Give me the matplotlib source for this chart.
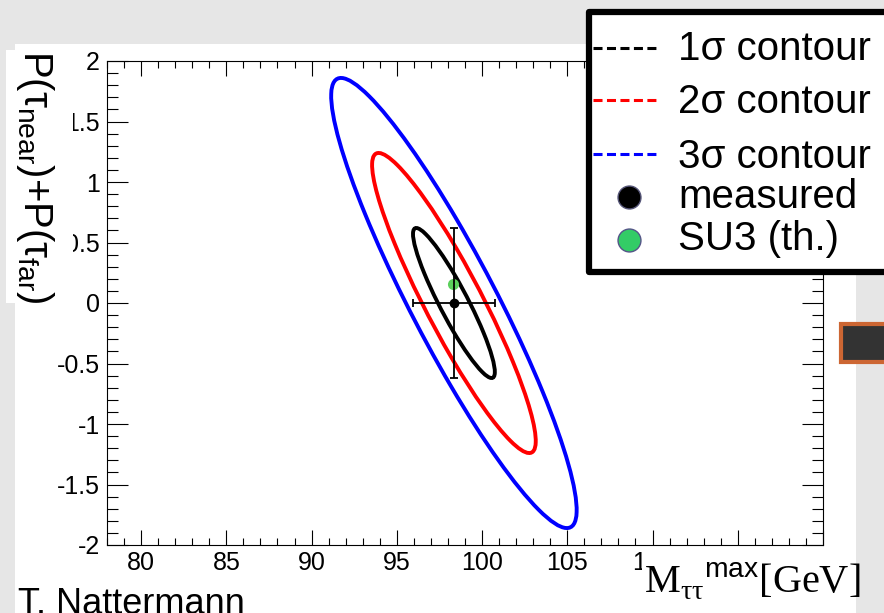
import numpy as np
import matplotlib
matplotlib.use('Agg')
from matplotlib import pyplot as plt
from matplotlib.patches import Ellipse, Rectangle
from matplotlib.lines import Line2D
from matplotlib.ticker import MultipleLocator, FuncFormatter

plt.rcParams['font.family'] = ['Liberation Sans', 'DejaVu Sans']
plt.rcParams['mathtext.fontset'] = 'custom'
plt.rcParams['mathtext.rm'] = 'Liberation Serif'
plt.rcParams['mathtext.it'] = 'Liberation Sans'
plt.rcParams['mathtext.sf'] = 'Liberation Sans'
plt.rcParams['axes.unicode_minus'] = False
plt.rcParams['lines.scale_dashes'] = False

# fit result (measured) and theory point
meas_x = [98.35]
meas_y = [0.0]
err_x = [2.4]
err_y = [0.62]
rho = -0.92
su3_x = [98.3]
su3_y = [0.16]

sigma_levels = [1, 2, 3]
contour_colors = ['black', 'red', 'blue']
legend_labels = ['1σ contour', '2σ contour', '3σ contour', 'measured', 'SU3 (th.)']

W, H = 884, 613
def fx(px):
    return px / W
def fy(py):
    return 1 - py / H

fig = plt.figure(figsize=(W / 100, H / 100), dpi=100, facecolor='#e6e6e6')

# white slide area
fig.patches.append(Rectangle((fx(15), fy(613)), fx(856) - fx(15), (613 - 44) / H,
                             transform=fig.transFigure, fc='white', ec='none', zorder=-1))

ax = fig.add_axes([fx(107), fy(545), fx(823) - fx(107), (545 - 61) / H])
ax.set_xlim(78, 120)
ax.set_ylim(-2, 2)

# contours from covariance
cov = np.array([[err_x[0] ** 2, rho * err_x[0] * err_y[0]],
                [rho * err_x[0] * err_y[0], err_y[0] ** 2]])
vals, vecs = np.linalg.eigh(cov)
angle = np.degrees(np.arctan2(vecs[1, 1], vecs[0, 1]))
for n, c in zip(sigma_levels, contour_colors):
    e = Ellipse((meas_x[0], meas_y[0]), 2 * n * np.sqrt(vals[1]), 2 * n * np.sqrt(vals[0]),
                angle=angle, fill=False, ec=c, lw=2.8)
    ax.add_patch(e)

ax.plot(su3_x, su3_y, 'o', color='#5cd05c', ms=8, mec='none', zorder=4)
ax.errorbar(meas_x, meas_y, xerr=err_x, yerr=err_y, fmt='o', color='black', ms=6,
            lw=1.3, capsize=3, capthick=1.3, zorder=5)

ax.xaxis.set_major_locator(MultipleLocator(5))
ax.xaxis.set_minor_locator(MultipleLocator(1))
# labels past 110 are hidden behind the axis title anyway
ax.xaxis.set_major_formatter(FuncFormatter(lambda v, p: '%g' % v if v < 112 else ''))
ax.yaxis.set_major_locator(MultipleLocator(0.5))
ax.yaxis.set_minor_locator(MultipleLocator(0.1))
ax.yaxis.set_major_formatter(FuncFormatter(lambda v, p: '%g' % v))
ax.tick_params(which='both', direction='in', top=True, right=True, width=0.8, labelsize=18)
ax.tick_params(axis='x', which='major', length=11, pad=4)
ax.tick_params(axis='x', which='minor', length=5)
ax.tick_params(axis='y', which='major', length=15, pad=5)
ax.tick_params(axis='y', which='minor', length=8)
for s in ax.spines.values():
    s.set_linewidth(0.8)

# y label with white box
fig.patches.append(Rectangle((fx(6), fy(303)), fx(73) - fx(6), (303 - 50) / H,
                             transform=fig.transFigure, fc='white', ec='none', zorder=5))
fig.text(fx(35), fy(177), r'P($\tau_{\mathsf{near}}$)+P($\tau_{\mathsf{far}}$)', rotation=-90,
         ha='center', va='center', fontsize=29, zorder=6)

# x label with white box
fig.patches.append(Rectangle((fx(642), fy(613)), fx(856) - fx(642), (613 - 550) / H,
                             transform=fig.transFigure, fc='white', ec='none', zorder=5))
fig.text(fx(644), fy(593), r'$\mathrm{M}_{\mathrm{\tau\tau}}{}^{\mathsf{max}}\mathrm{[GeV]}$',
         ha='left', va='baseline', fontsize=29, zorder=6)

fig.text(fx(18), fy(614), 'T. Nattermann', fontsize=26, ha='left', va='baseline')

# dark box on the right
fig.patches.append(Rectangle((fx(841), fy(362)), fx(900) - fx(841), (362 - 324) / H,
                             transform=fig.transFigure, fc='#333333', ec='#cc6633',
                             lw=3, zorder=5))

# legend
fig.patches.append(Rectangle((fx(589), fy(272)), fx(900) - fx(589), (272 - 12) / H,
                             transform=fig.transFigure, fc='white', ec='black',
                             lw=4.5, joinstyle='round', zorder=7))
line_rows = [48, 100, 154]
for yy, c in zip(line_rows, contour_colors):
    fig.add_artist(Line2D([fx(593), fx(660)], [fy(yy), fy(yy)], transform=fig.transFigure,
                          color=c, lw=2.2, dashes=(6.5, 3.2), zorder=8))
fig.add_artist(Line2D([fx(629)], [fy(197)], transform=fig.transFigure, marker='o', ms=16.5,
                      color='black', mec='#555577', mew=1, zorder=8))
fig.add_artist(Line2D([fx(629)], [fy(240)], transform=fig.transFigure, marker='o', ms=16.5,
                      color='#33cc66', mec='#555588', mew=1, zorder=8))
baselines = [60, 113, 168, 208, 250]
for yy, t in zip(baselines, legend_labels):
    fig.text(fx(678), fy(yy), t, fontsize=29, ha='left', va='baseline', zorder=9)

fig.savefig('out.png', dpi=100, facecolor=fig.get_facecolor())
